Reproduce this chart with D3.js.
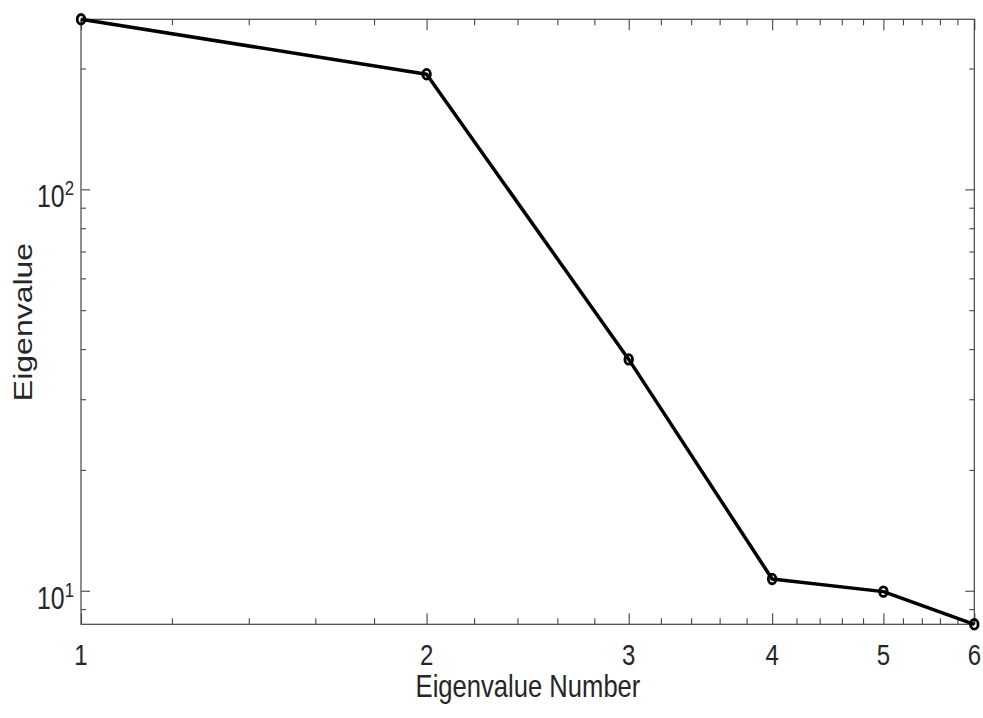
<!DOCTYPE html>
<html>
<head>
<meta charset="utf-8">
<script src="https://cdn.jsdelivr.net/npm/d3@7"></script>
<style>
  html, body { margin: 0; padding: 0; background: #fff; }
  svg { display: block; font-family: "Liberation Sans", Arial, Helvetica, sans-serif; }
</style>
</head>
<body>
<svg id="chart"></svg>
<script>
// Data (log-log)
const eigenNumbers = [1, 2, 3, 4, 5, 6];
const eigenValues = [265.2, 193.5, 37.7, 10.7, 9.95, 8.25];

// Tick values
const xMajorTicks = [1, 2, 3, 4, 5, 6];
const xMinorTicks = [1.2, 1.4, 1.6, 1.8, 2.2, 2.4, 2.6, 2.8, 3.2, 3.4, 3.6, 3.8,
  4.2, 4.4, 4.6, 4.8, 5.2, 5.4, 5.6, 5.8];
const yMajorTicks = [10, 100];
const yMajorLabels = ['1', '2'];   // exponents
const yMinorTicks = [9, 20, 30, 40, 50, 60, 70, 80, 90, 200];

const width = 983;
const height = 718;
const margin = { top: 19.3, right: 8.7, bottom: 93.7, left: 81 };
const innerWidth = width - margin.left - margin.right;
const innerHeight = height - margin.top - margin.bottom;

// The picture is squeezed horizontally
const squeeze = 0.8;
const axisColor = '#444';

const svg = d3.select('#chart')
  .attr('width', width)
  .attr('height', height);

const g = svg.append('g')
  .attr('transform', `translate(${margin.left},${margin.top})`);

const x = d3.scaleLog()
  .domain([1, 6])
  .range([0, innerWidth]);

const y = d3.scaleLog()
  .domain(d3.extent(eigenValues))
  .range([innerHeight, 0]);

// Box
g.append('rect')
  .attr('x', 0)
  .attr('y', 0)
  .attr('width', innerWidth)
  .attr('height', innerHeight)
  .attr('fill', 'none')
  .attr('stroke', axisColor)
  .attr('stroke-width', 1.2);

// Inward ticks on all four sides
function drawTicks(axisFn, scale, values, size, transform) {
  const axis = axisFn(scale)
    .tickValues(values)
    .tickSize(size)
    .tickFormat('');
  const ag = g.append('g')
    .attr('transform', transform)
    .call(axis);
  ag.select('.domain').remove();
  ag.selectAll('line')
    .attr('stroke', axisColor)
    .attr('stroke-width', 1.1);
}

drawTicks(d3.axisBottom, x, xMajorTicks, -11, `translate(0,${innerHeight})`);
drawTicks(d3.axisBottom, x, xMinorTicks, -6, `translate(0,${innerHeight})`);
drawTicks(d3.axisTop, x, xMajorTicks, -11, 'translate(0,0)');
drawTicks(d3.axisTop, x, xMinorTicks, -6, 'translate(0,0)');
drawTicks(d3.axisLeft, y, yMajorTicks, -9, 'translate(0,0)');
drawTicks(d3.axisLeft, y, yMinorTicks, -5, 'translate(0,0)');
drawTicks(d3.axisRight, y, yMajorTicks, -9, `translate(${innerWidth},0)`);
drawTicks(d3.axisRight, y, yMinorTicks, -5, `translate(${innerWidth},0)`);

// X tick labels
g.append('g')
  .selectAll('g')
  .data(xMajorTicks)
  .join('g')
  .attr('transform', d => `translate(${x(d)},${innerHeight + 41}) scale(${squeeze},1)`)
  .append('text')
  .attr('text-anchor', 'middle')
  .attr('font-size', 30)
  .attr('fill', '#262626')
  .text(d => d);

// Y tick labels: 10 with a raised exponent
const yLabels = g.append('g')
  .selectAll('g')
  .data(yMajorTicks)
  .join('g')
  .attr('transform', d => `translate(-7,${y(d) + 18}) scale(${squeeze},1)`)
  .append('text')
  .attr('text-anchor', 'end')
  .attr('fill', '#262626');

yLabels.append('tspan')
  .attr('font-size', 31)
  .text('10');
yLabels.append('tspan')
  .attr('font-size', 21)
  .attr('dy', -12)
  .text((d, i) => yMajorLabels[i]);

// Axis titles
svg.append('g')
  .attr('transform', `translate(528,697) scale(${squeeze},1)`)
  .append('text')
  .attr('text-anchor', 'middle')
  .attr('font-size', 32)
  .attr('fill', '#262626')
  .text('Eigenvalue Number');

svg.append('g')
  .attr('transform', `translate(32,322) scale(${squeeze},1) rotate(-90)`)
  .append('text')
  .attr('text-anchor', 'middle')
  .attr('font-size', 32)
  .attr('fill', '#262626')
  .text('Eigenvalue');

// Line and open circle markers
const line = d3.line()
  .x((d, i) => x(eigenNumbers[i]))
  .y(d => y(d));

g.append('path')
  .datum(eigenValues)
  .attr('d', line)
  .attr('fill', 'none')
  .attr('stroke', '#000')
  .attr('stroke-width', 3.5)
  .attr('stroke-linejoin', 'round');

g.append('g')
  .selectAll('ellipse')
  .data(eigenValues)
  .join('ellipse')
  .attr('cx', (d, i) => x(eigenNumbers[i]))
  .attr('cy', d => y(d))
  .attr('rx', 3.8)
  .attr('ry', 4.8)
  .attr('fill', 'none')
  .attr('stroke', '#000')
  .attr('stroke-width', 2.8);
</script>
</body>
</html>
